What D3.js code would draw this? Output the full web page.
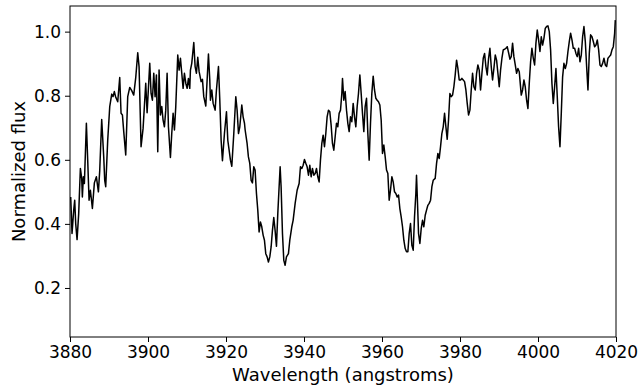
<!DOCTYPE html>
<html>
<head>
<meta charset="utf-8">
<script src="https://cdn.jsdelivr.net/npm/d3@7"></script>
<style>
  body { margin: 0; background: #fff; }
  svg { display: block; font-family: 'DejaVu Sans', sans-serif; }
</style>
</head>
<body>
<div id="spectrum"></div>
<script>
// wavelength (angstroms) and normalized flux
const wavelength = [
  3880.18, 3880.52, 3880.95, 3881.21, 3881.46, 3881.81, 3882.23, 3882.66, 3883.00, 3883.17,
  3883.43, 3883.69, 3884.20, 3884.54, 3884.89, 3885.23, 3885.74, 3886.25, 3886.77, 3887.28,
  3887.62, 3888.13, 3888.65, 3888.90, 3889.16, 3889.67, 3890.19, 3890.70, 3891.04, 3891.38,
  3891.73, 3892.24, 3892.75, 3893.09, 3893.44, 3893.78, 3894.29, 3894.80, 3895.32, 3895.83,
  3896.34, 3896.86, 3897.37, 3897.71, 3898.22, 3898.74, 3899.42, 3899.77,
  3900.45, 3900.79, 3901.13, 3901.48, 3901.82, 3902.16, 3902.50, 3902.84, 3903.19, 3903.53,
  3903.87, 3904.21, 3904.55, 3904.90, 3905.24, 3905.75, 3906.09, 3906.44, 3906.78, 3907.12,
  3907.63, 3907.98, 3908.32, 3908.66, 3909.00, 3909.34, 3909.69, 3910.03, 3910.37, 3910.71,
  3910.88, 3911.22, 3911.74, 3912.08, 3912.42, 3912.76, 3913.11, 3913.62, 3913.96, 3914.30,
  3914.82, 3915.50, 3915.84, 3916.01, 3916.36, 3916.70, 3917.21, 3917.55, 3918.07, 3918.41,
  3918.75, 3919.09, 3919.60, 3920.12, 3920.46, 3920.80, 3921.14, 3921.49, 3922.00, 3922.51,
  3922.85, 3923.20, 3923.54, 3924.05, 3924.39, 3924.74, 3924.91,
  3925.41, 3925.75, 3926.10, 3926.44, 3926.78, 3927.12, 3927.46, 3927.81, 3928.15, 3928.49,
  3928.83, 3929.17, 3929.52, 3929.86, 3930.20, 3930.54, 3930.88, 3931.23, 3931.57, 3931.91,
  3932.25, 3932.59, 3932.94, 3933.28, 3933.62, 3933.88, 3934.13, 3934.48, 3934.82, 3935.16,
  3935.50, 3936.01, 3936.36, 3936.87, 3937.21, 3937.73, 3938.24, 3938.75, 3939.09, 3939.44,
  3939.78, 3940.12, 3940.46, 3940.80, 3941.15, 3941.49, 3941.83, 3942.17, 3942.51, 3942.86,
  3943.20, 3943.54, 3943.88, 3944.22, 3944.57, 3944.91, 3945.25, 3945.59, 3945.93, 3946.28,
  3946.62, 3946.96, 3947.30, 3947.64, 3947.99, 3948.33, 3948.67, 3949.01,
  3949.36, 3949.70, 3949.87, 3950.21, 3950.55, 3950.90, 3951.24, 3951.58, 3951.92, 3952.26,
  3952.61, 3952.95, 3953.29, 3953.63, 3953.97, 3954.32, 3954.66, 3955.00, 3955.34, 3955.68,
  3956.03, 3956.37, 3956.71, 3957.05, 3957.39, 3957.74, 3958.08, 3958.42, 3958.76, 3959.10,
  3959.45, 3959.79, 3960.13, 3960.47, 3960.82, 3961.16, 3961.50, 3961.84, 3962.18, 3962.53,
  3962.87, 3963.21, 3963.55, 3963.89, 3964.24, 3964.58, 3964.92, 3965.26, 3965.60, 3965.95,
  3966.29, 3966.63, 3966.97, 3967.31, 3967.66, 3968.00, 3968.34, 3968.68, 3968.85, 3969.02,
  3969.37, 3969.71, 3970.05, 3970.39, 3970.73, 3971.08, 3971.42, 3971.76, 3972.10,
  3972.45, 3972.79, 3973.13, 3973.64, 3973.99, 3974.33, 3974.67, 3975.01, 3975.35, 3975.70,
  3976.04, 3976.38, 3976.72, 3977.06, 3977.41, 3977.75, 3978.09, 3978.43, 3978.77, 3979.12,
  3979.46, 3979.80, 3980.14, 3980.48, 3980.83, 3981.17, 3981.51, 3981.85, 3982.19, 3982.54,
  3982.88, 3983.22, 3983.56, 3983.91, 3984.25, 3984.59, 3984.93, 3985.27, 3985.62, 3985.96,
  3986.30, 3986.64, 3986.98, 3987.33, 3987.67, 3988.01, 3988.35, 3988.69, 3989.04, 3989.38,
  3989.72, 3990.06, 3990.40, 3990.75, 3991.09, 3991.43, 3991.77, 3992.11, 3992.46, 3992.80,
  3993.14, 3993.48, 3993.82, 3994.17, 3994.51, 3994.85, 3995.19,
  3995.71, 3996.05, 3996.39, 3996.73, 3997.08, 3997.42, 3997.76, 3998.10, 3998.44, 3998.79,
  3999.13, 3999.47, 3999.81, 4000.15, 4000.50, 4000.84, 4001.18, 4001.52, 4001.86, 4002.21,
  4002.55, 4002.89, 4003.23, 4003.57, 4003.92, 4004.26, 4004.60, 4004.94, 4005.28, 4005.63,
  4005.97, 4006.31, 4006.65, 4007.00, 4007.34, 4007.68, 4008.02, 4008.36, 4008.71, 4009.05,
  4009.39, 4009.73, 4010.07, 4010.42, 4010.76, 4011.10, 4011.44, 4011.78, 4012.13, 4012.47,
  4012.81, 4013.15, 4013.49, 4013.84, 4014.18, 4014.52, 4014.86, 4015.20, 4015.55, 4015.89,
  4016.23, 4016.57, 4016.91, 4017.26, 4017.60, 4017.94, 4018.28, 4018.63, 4018.97, 4019.31,
  4019.65, 4019.82
];
const flux = [
  0.484, 0.370, 0.443, 0.474, 0.401, 0.351, 0.432, 0.573, 0.542, 0.484,
  0.547, 0.526, 0.714, 0.599, 0.474, 0.505, 0.448, 0.528, 0.547, 0.500,
  0.566, 0.726, 0.609, 0.536, 0.516, 0.661, 0.766, 0.805, 0.797, 0.813,
  0.795, 0.781, 0.857, 0.745, 0.740, 0.688, 0.615, 0.797, 0.826, 0.816,
  0.802, 0.857, 0.934, 0.891, 0.641, 0.698, 0.839, 0.747,
  0.901, 0.807, 0.786, 0.870, 0.797, 0.865, 0.625, 0.880, 0.740, 0.766,
  0.724, 0.703, 0.755, 0.870, 0.703, 0.607, 0.682, 0.745, 0.693, 0.766,
  0.927, 0.880, 0.917, 0.870, 0.823, 0.870, 0.839, 0.823, 0.854, 0.823,
  0.880, 0.901, 0.966, 0.891, 0.870, 0.920, 0.875, 0.844, 0.851, 0.797,
  0.768, 0.930, 0.849, 0.786, 0.818, 0.776, 0.755, 0.818, 0.891, 0.786,
  0.661, 0.597, 0.682, 0.750, 0.661, 0.630, 0.599, 0.580, 0.682, 0.797,
  0.755, 0.682, 0.703, 0.771, 0.734, 0.714, 0.693,
  0.651, 0.609, 0.589, 0.536, 0.528, 0.578, 0.568, 0.495, 0.443, 0.375,
  0.406, 0.391, 0.365, 0.349, 0.307, 0.297, 0.281, 0.297, 0.328, 0.380,
  0.420, 0.380, 0.330, 0.432, 0.516, 0.578, 0.516, 0.370, 0.286, 0.271,
  0.297, 0.307, 0.349, 0.391, 0.411, 0.464, 0.505, 0.526, 0.578, 0.573,
  0.583, 0.601, 0.589, 0.578, 0.552, 0.583, 0.547, 0.573, 0.552, 0.557,
  0.573, 0.547, 0.531, 0.599, 0.651, 0.677, 0.641, 0.682, 0.734, 0.755,
  0.750, 0.708, 0.651, 0.630, 0.672, 0.714, 0.703, 0.745,
  0.755, 0.807, 0.854, 0.786, 0.813, 0.755, 0.714, 0.688, 0.734, 0.719,
  0.776, 0.734, 0.703, 0.766, 0.807, 0.865, 0.807, 0.745, 0.688, 0.766,
  0.792, 0.682, 0.599, 0.714, 0.807, 0.861, 0.818, 0.792, 0.786, 0.781,
  0.771, 0.724, 0.620, 0.646, 0.609, 0.568, 0.557, 0.474, 0.505, 0.547,
  0.531, 0.500, 0.495, 0.484, 0.490, 0.448, 0.422, 0.391, 0.349, 0.323,
  0.313, 0.313, 0.370, 0.401, 0.333, 0.318, 0.422, 0.495, 0.552, 0.495,
  0.370, 0.339, 0.385, 0.411, 0.391, 0.427, 0.443, 0.458, 0.464,
  0.474, 0.516, 0.536, 0.542, 0.589, 0.620, 0.604, 0.641, 0.682, 0.703,
  0.745, 0.703, 0.664, 0.724, 0.807, 0.797, 0.802, 0.828, 0.865, 0.911,
  0.885, 0.849, 0.849, 0.854, 0.849, 0.844, 0.818, 0.776, 0.740, 0.755,
  0.818, 0.870, 0.828, 0.818, 0.870, 0.896, 0.880, 0.818, 0.870, 0.917,
  0.932, 0.891, 0.865, 0.917, 0.948, 0.891, 0.849, 0.885, 0.927, 0.911,
  0.870, 0.828, 0.880, 0.917, 0.943, 0.945, 0.948, 0.953, 0.934, 0.914,
  0.922, 0.964, 0.922, 0.896, 0.870, 0.885, 0.875,
  0.802, 0.818, 0.849, 0.828, 0.786, 0.760, 0.839, 0.906, 0.948, 0.917,
  0.896, 0.964, 1.005, 0.974, 0.938, 0.984, 0.958, 0.979, 1.010, 1.016,
  1.018, 1.000, 0.943, 0.839, 0.776, 0.828, 0.885, 0.797, 0.703, 0.641,
  0.745, 0.859, 0.901, 0.885, 0.901, 0.938, 0.969, 0.995, 0.974, 0.948,
  0.948, 0.932, 0.922, 0.948, 0.906, 0.927, 0.984, 1.016, 0.969, 0.891,
  0.818, 0.932, 0.990, 0.984, 0.969, 0.953, 0.958, 0.974, 0.943, 0.896,
  0.891, 0.901, 0.917, 0.896, 0.891, 0.917, 0.922, 0.927, 0.943, 0.953,
  0.995, 1.036
];
const xTicks = [3880, 3900, 3920, 3940, 3960, 3980, 4000, 4020];
const yTicks = [0.2, 0.4, 0.6, 0.8, 1.0];

let margin = {top: 6, right: 22, bottom: 51, left: 70};
let width = 638 - margin.left - margin.right;
let height = 388 - margin.top - margin.bottom;

let svg = d3.select('#spectrum')
    .append('svg')
    .attr('width', width + margin.left + margin.right)
    .attr('height', height + margin.top + margin.bottom)
    .append('g')
    .attr('transform', 'translate(' + margin.left + ',' + margin.top + ')');

let x = d3.scaleLinear().domain([3880, 4020]).range([0, width]);
let y = d3.scaleLinear().domain([0.047, 1.080]).range([height, 0]);

svg.append('clipPath')
    .attr('id', 'plotArea')
    .append('rect')
    .attr('width', width)
    .attr('height', height);

let points = wavelength.map((w, i) => [w, flux[i]]);
let line = d3.line()
    .x(d => x(d[0]))
    .y(d => y(d[1]));

svg.append('path')
    .datum(points)
    .attr('clip-path', 'url(#plotArea)')
    .attr('fill', 'none')
    .attr('stroke', '#000')
    .attr('stroke-width', 1.5)
    .attr('stroke-linejoin', 'round')
    .attr('d', line);

let xAxis = d3.axisBottom(x)
    .tickValues(xTicks)
    .tickFormat(d3.format('d'))
    .tickSize(5)
    .tickPadding(3.5);

let yAxis = d3.axisLeft(y)
    .tickValues(yTicks)
    .tickFormat(d3.format('.1f'))
    .tickSize(5)
    .tickPadding(4);

svg.append('g')
    .attr('transform', 'translate(0,' + height + ')')
    .call(xAxis)
    .call(g => g.select('.domain').remove())
    .call(g => g.selectAll('text').attr('font-size', '17px').attr('fill', '#000').attr('font-family', 'DejaVu Sans'));

svg.append('g')
    .call(yAxis)
    .call(g => g.select('.domain').remove())
    .call(g => g.selectAll('text').attr('font-size', '17px').attr('fill', '#000').attr('font-family', 'DejaVu Sans'));

// frame round the plot area
svg.append('rect')
    .attr('x', 0)
    .attr('y', 0)
    .attr('width', width)
    .attr('height', height)
    .attr('fill', 'none')
    .attr('stroke', '#000')
    .attr('stroke-width', 1);

svg.append('text')
    .attr('x', width / 2)
    .attr('y', height + 43.5)
    .attr('text-anchor', 'middle')
    .attr('font-size', '18px')
    .text('Wavelength (angstroms)');

svg.append('text')
    .attr('transform', 'translate(' + (-45) + ',' + (height / 2) + ') rotate(-90)')
    .attr('text-anchor', 'middle')
    .attr('font-size', '18px')
    .text('Normalized flux');
</script>
</body>
</html>
